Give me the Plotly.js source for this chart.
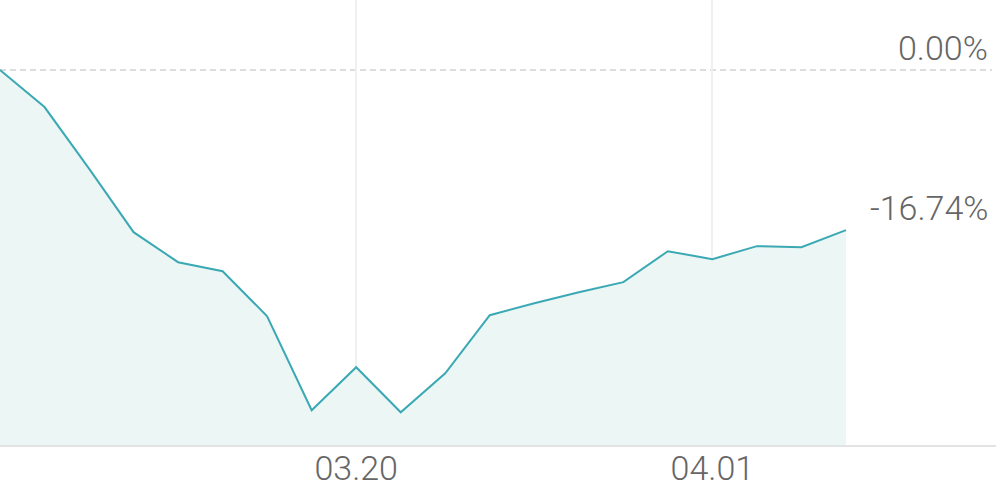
<!DOCTYPE html>
<html>
<head>
<meta charset="utf-8">
<script src="https://cdn.plot.ly/plotly-3.0.1.min.js"></script>
<style>
html,body{margin:0;padding:0;background:#fff;}
#chart{width:996px;height:490px;}
</style>
</head>
<body>
<div id="chart"></div>
<script>
const dates = ["03.10","03.11","03.12","03.13","03.16","03.17","03.18","03.19","03.20","03.23","03.24","03.25","03.26","03.27","03.30","03.31","04.01","04.02","04.03","04.06"];
const returns = [0.00,-3.87,-10.31,-16.95,-20.09,-21.03,-25.74,-35.57,-31.07,-35.78,-31.70,-25.63,-24.38,-23.23,-22.18,-18.94,-19.77,-18.41,-18.52,-16.74];
const tickDates = ["03.20","04.01"];
const yMin = -39.2;
const yMax = 7.32;
const baseline = dates.map(() => yMin);
const lastValue = returns[returns.length - 1];

const traces = [
  {x: dates, y: baseline, type: "scatter", mode: "lines", line: {width: 0, color: "rgba(0,0,0,0)"}, hoverinfo: "skip", showlegend: false},
  {x: dates, y: returns, type: "scatter", mode: "lines", fill: "tonexty", fillcolor: "#ECF6F5",
   line: {color: "#3AA9B4", width: 2}, showlegend: false}
];

const layout = {
  width: 996, height: 490,
  margin: {l: 0, r: 0, t: 0, b: 45},
  paper_bgcolor: "#fff", plot_bgcolor: "#fff",
  font: {family: "Roboto, sans-serif", color: "#666"},
  xaxis: {type: "category", range: [0, 22.37], tickmode: "array", tickvals: tickDates, ticktext: tickDates,
    showgrid: true, gridcolor: "#F0F0F0", gridwidth: 2, showline: true, linecolor: "#E3E3E3", linewidth: 2,
    ticks: "", tickfont: {family: "Roboto, sans-serif", size: 34, color: "#666", weight: 300}, ticklabelstandoff: -8, zeroline: false, fixedrange: true},
  yaxis: {range: [yMin, yMax], showgrid: false, zeroline: false, showticklabels: false, fixedrange: true},
  shapes: [
    {type: "line", xref: "paper", yref: "y", x0: 0, x1: 0.996, y0: 0, y1: 0, line: {color: "#DDDDDD", width: 2, dash: "6px,4px"}, layer: "below"}
  ],
  annotations: [
    {xref: "paper", yref: "y", x: 0.994, y: 0, yshift: 22, xanchor: "right", yanchor: "middle", showarrow: false,
     text: "0.00%", font: {family: "Roboto, sans-serif", size: 34, color: "#666", weight: 300}},
    {xref: "paper", yref: "y", x: 0.994, y: lastValue, yshift: 22, xanchor: "right", yanchor: "middle", showarrow: false,
     text: lastValue.toFixed(2) + "%", font: {family: "Roboto, sans-serif", size: 34, color: "#666", weight: 300}}
  ],
  showlegend: false
};

Plotly.newPlot("chart", traces, layout, {displayModeBar: false, staticPlot: true});
</script>
</body>
</html>
